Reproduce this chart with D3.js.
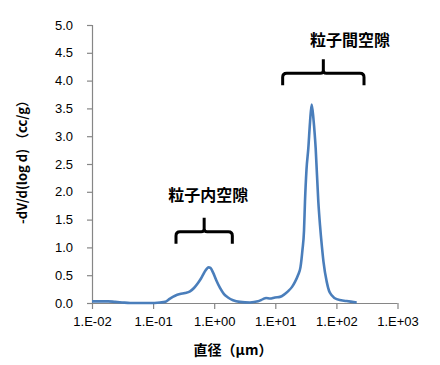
<!DOCTYPE html>
<html><head><meta charset="utf-8">
<script src="https://cdn.jsdelivr.net/npm/d3@7"></script>
<style>body{margin:0;background:#fff}svg{display:block}</style>
</head><body>
<script>
// Pore diameter (µm)
const diameter = [0.0100,0.0135,0.0183,0.0238,0.031,0.042,0.061,0.089,0.130,0.157,0.189,0.229,0.275,0.333,0.402,0.467,0.543,0.608,0.681,0.748,0.807,0.869,0.955,1.09,1.245,1.446,1.68,2.03,2.64,3.85,5.21,6.29,7.05,8.19,9.89,11.9,13.9,16.1,18.8,21.0,23.5,25.8,27.8,29.5,30.6,32.4,34.7,37.0,39.4,42.2,45.8,50.6,53.9,58.1,61.5,69.5,75.7,83.8,101,147,215];
// -dV/d(log d) (cc/g)
const dVdlogd = [0.03,0.03,0.03,0.02,0.01,0.0,0.0,0.0,0.01,0.02,0.08,0.13,0.16,0.18,0.21,0.27,0.36,0.44,0.54,0.61,0.64,0.63,0.55,0.40,0.27,0.16,0.10,0.05,0.02,0.01,0.03,0.07,0.09,0.08,0.10,0.11,0.15,0.21,0.29,0.38,0.50,0.64,0.95,1.30,1.82,2.4,2.78,3.25,3.57,3.3,2.78,1.82,1.40,1.0,0.74,0.38,0.22,0.14,0.07,0.035,0.01];
const xTickValues = [0.01,0.1,1,10,100,1000];
const xTickLabels = ["1.E-02","1.E-01","1.E+00","1.E+01","1.E+02","1.E+03"];
const yTickValues = [0,0.5,1,1.5,2,2.5,3,3.5,4,4.5,5];
// annotations
const annotLabels = ["粒子内空隙","粒子間空隙"];
const braceStart = [0.237, 13.2];
const braceEnd = [1.98, 283];
const braceLevel = [1.28, 4.13];
const labelDiameter = [0.80, 167];
const labelValue = [1.94, 4.72];

const W=440,H=365;
const svg=d3.select("body").append("svg").attr("width",W).attr("height",H);
const x=d3.scaleLog().domain([0.01,1000]).range([92,397.5]);
const y=d3.scaleLinear().domain([0,5]).range([303,25]);
const axisColor="#868686";
const tickFont="'Liberation Sans','DejaVu Sans',sans-serif";

const gx=svg.append("g").attr("transform","translate(0,303)")
  .call(d3.axisBottom(x).tickValues(xTickValues).tickFormat((d,i)=>xTickLabels[i]).tickSizeOuter(0).tickSize(6).tickPadding(8));
const gy=svg.append("g").attr("transform","translate(92,0)")
  .call(d3.axisLeft(y).tickValues(yTickValues).tickFormat(d3.format(".1f")).tickSizeOuter(0).tickSize(5).tickPadding(14));
[gx,gy].forEach(g=>{
  g.selectAll("path,line").attr("stroke",axisColor).attr("stroke-width",1.2);
  g.selectAll("text").attr("fill","#000").attr("font-size","13px").attr("font-family",tickFont);
});
gx.select(".domain").attr("d","M92,0.5H397.5");

const line=d3.line().x(d=>x(d[0])).y(d=>y(d[1])).curve(d3.curveMonotoneX);
svg.append("path").datum(diameter.map((d,i)=>[d,dVdlogd[i]]))
  .attr("d",line).attr("fill","none").attr("stroke","#4A7EBB").attr("stroke-width",2.6).attr("stroke-linejoin","round");

// braces
annotLabels.forEach((lab,i)=>{
  const x0=x(braceStart[i]),x1=x(braceEnd[i]),yl=y(braceLevel[i]);
  const xc=(x0+x1)/2, r=4, drop=12, rise=14;
  const p=`M${x0},${yl+drop} L${x0},${yl+r} Q${x0},${yl} ${x0+r},${yl} L${xc-3},${yl} Q${xc},${yl} ${xc},${yl-3} L${xc},${yl-rise} M${xc},${yl-3} Q${xc},${yl} ${xc+3},${yl} L${x1-r},${yl} Q${x1},${yl} ${x1},${yl+r} L${x1},${yl+drop}`;
  svg.append("path").attr("d",p).attr("fill","none").attr("stroke","#000").attr("stroke-width",3);
  svg.append("text").attr("x",x(labelDiameter[i])).attr("y",y(labelValue[i])).attr("dy","0.35em")
    .attr("text-anchor","middle").attr("font-size","16px").attr("font-weight","bold")
    .attr("font-family","'Noto Sans CJK JP',sans-serif").text(lab);
});

svg.append("text").attr("x",233).attr("y",350).attr("dy","0.35em").attr("text-anchor","middle")
  .attr("font-size","14px").attr("font-weight","bold").attr("font-family","'Noto Sans CJK JP',sans-serif").text("直径（μm）");
svg.append("text").attr("transform","translate(22,159) rotate(-90)").attr("dy","0.35em").attr("text-anchor","middle")
  .attr("font-size","13px").attr("font-weight","bold").attr("font-family","'Noto Sans CJK JP',sans-serif").text("-dV/d(log d) （cc/g）");
</script>
</body></html>
